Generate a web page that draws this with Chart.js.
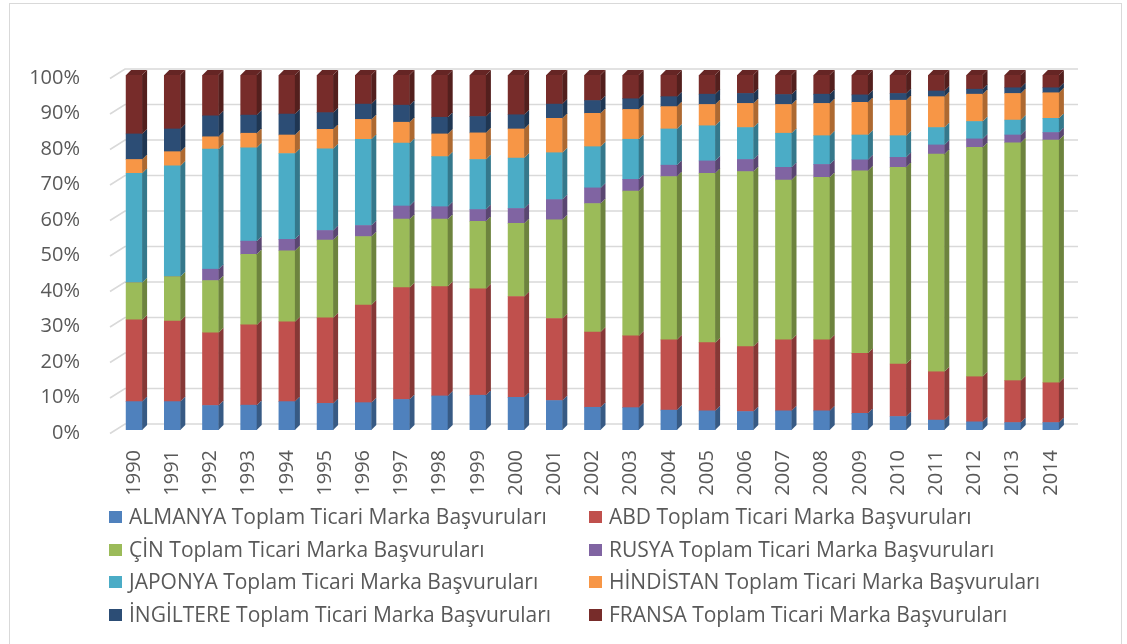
<!DOCTYPE html>
<html>
<head>
<meta charset="utf-8">
<script src="https://cdn.jsdelivr.net/npm/chart.js@4"></script>
<style>
  body { margin: 0; background: #fff; }
  .wrap { position: relative; width: 1127px; height: 644px; overflow: hidden; }
  .frame { position: absolute; left: 9px; top: 3px; width: 1111px; height: 660px; border: 1.5px solid #d9d9d9; }
  canvas { position: absolute; left: 0; top: 0; }
  .legend { position: absolute; left: 0; top: 500px; width: 1127px; font-family: "Open Sans", sans-serif; font-size: 21px; color: #595959; }
  .legend .item { position: absolute; white-space: nowrap; line-height: 24px; }
  .legend .box { display: inline-block; width: 13px; height: 12px; margin-right: 7px; vertical-align: 1px; }
</style>
</head>
<body>
<div class="wrap">
  <div class="frame"></div>
  <canvas id="chart" width="1127" height="644"></canvas>
  <div class="legend" id="legend"></div>
</div>
<script>
var years = ['1990','1991','1992','1993','1994','1995','1996','1997','1998','1999','2000','2001','2002',
             '2003','2004','2005','2006','2007','2008','2009','2010','2011','2012','2013','2014'];

// shares (percent of the column)
var almanya   = [8.0,8.0,6.9,7.0,8.0,7.5,7.7,8.6,9.6,9.8,9.2,8.3,6.4,6.3,5.6,5.4,5.2,5.4,5.4,4.7,3.8,2.8,2.3,2.1,2.1];
var abd       = [23.0,22.7,20.5,22.6,22.5,24.1,27.5,31.5,30.8,30.0,28.4,23.1,21.2,20.2,19.8,19.2,18.3,20.0,20.0,16.9,14.8,13.6,12.7,11.8,11.2];
var cin       = [10.5,12.5,14.7,19.9,20.0,21.9,19.3,19.3,19.0,19.0,20.6,27.8,36.2,40.8,46.0,47.7,49.3,45.0,45.8,51.4,55.4,61.3,64.6,67.0,68.4];
var rusya     = [0,0,3.2,3.7,3.2,2.7,3.1,3.7,3.5,3.3,4.2,5.7,4.4,3.3,3.2,3.5,3.4,3.6,3.6,3.1,2.8,2.6,2.4,2.2,2.1];
var japonya   = [30.8,31.2,33.8,26.3,24.2,23.0,24.3,17.7,14.1,14.1,14.2,13.2,11.6,11.3,10.2,9.9,9.0,9.6,8.1,7.0,6.1,4.9,4.9,4.2,4.0];
var hindistan = [3.9,4.0,3.5,4.1,5.2,5.5,5.6,5.9,6.4,7.5,8.2,9.7,9.4,8.4,6.3,6.0,6.8,8.1,9.1,9.2,10.0,8.7,7.7,7.5,7.2];
var ingiltere = [7.2,6.4,5.9,5.1,5.9,4.7,4.3,4.8,4.7,4.6,4.0,4.0,3.6,3.0,2.8,2.9,2.8,2.8,2.6,2.1,1.9,1.6,1.4,1.6,1.4];
var fransa    = [16.6,15.2,11.5,11.3,11.0,10.6,8.2,8.5,11.9,11.7,11.2,8.2,7.2,6.7,6.1,5.4,5.2,5.5,5.4,5.6,5.2,4.5,4.0,3.6,3.6];

var seriesNames = ['ALMANYA','ABD','ÇİN','RUSYA','JAPONYA','HİNDİSTAN','İNGİLTERE','FRANSA'];
var seriesData  = [almanya, abd, cin, rusya, japonya, hindistan, ingiltere, fransa];
var colors      = ['#4F81BD','#C0504D','#9BBB59','#8064A2','#4BACC6','#F79646','#2C4D75','#772C2A'];
var suffix = ' Toplam Ticari Marka Başvuruları';

// 100% stacking
var totals = years.map(function (y, i) {
    return seriesData.reduce(function (s, arr) { return s + arr[i]; }, 0);
});

function darken(hex, f) {
    var r = parseInt(hex.substr(1, 2), 16), g = parseInt(hex.substr(3, 2), 16), b = parseInt(hex.substr(5, 2), 16);
    return 'rgb(' + Math.round(r * f) + ',' + Math.round(g * f) + ',' + Math.round(b * f) + ')';
}

var DX = 5, DY = 5;

// back wall grid lines with the little slanted floor stub
var wallGrid = {
    id: 'wallGrid',
    beforeDatasetsDraw: function (chart) {
        var ctx = chart.ctx, ys = chart.scales.y, area = chart.chartArea;
        ctx.save();
        ctx.strokeStyle = '#d9d9d9';
        ctx.lineWidth = 1.6;
        ys.ticks.forEach(function (t) {
            var y = ys.getPixelForValue(t.value);
            ctx.beginPath();
            ctx.moveTo(area.left - 5, y + 3.5);
            ctx.lineTo(area.left + 10, y - 6);
            ctx.lineTo(area.right + 8, y - 6);
            ctx.stroke();
        });
        ctx.restore();
    }
};

// fake 3D: side and top faces
var bars3d = {
    id: 'bars3d',
    afterDatasetsDraw: function (chart) {
        var ctx = chart.ctx;
        var n = chart.data.datasets.length;
        ctx.save();
        chart.data.datasets.forEach(function (ds, di) {
            var meta = chart.getDatasetMeta(di);
            var side = darken(colors[di], 0.7);
            meta.data.forEach(function (bar) {
                var p = bar.getProps(['x', 'y', 'base', 'width'], true);
                if (Math.abs(p.base - p.y) < 0.1) return;
                var r = p.x + p.width / 2;
                ctx.fillStyle = side;
                ctx.beginPath();
                ctx.moveTo(r, p.y);
                ctx.lineTo(r + DX, p.y - DY);
                ctx.lineTo(r + DX, p.base - DY);
                ctx.lineTo(r, p.base);
                ctx.closePath();
                ctx.fill();
                if (di === n - 1) {
                    var l = p.x - p.width / 2;
                    ctx.fillStyle = darken(colors[di], 0.85);
                    ctx.beginPath();
                    ctx.moveTo(l, p.y);
                    ctx.lineTo(l + DX, p.y - DY);
                    ctx.lineTo(r + DX, p.y - DY);
                    ctx.lineTo(r, p.y);
                    ctx.closePath();
                    ctx.fill();
                }
            });
        });
        ctx.restore();
    }
};

var tickFont = { family: '"Open Sans", sans-serif', size: 20 };

var datasets = seriesNames.map(function (name, i) {
    return {
        label: name + suffix,
        data: seriesData[i].map(function (v, j) { return v / totals[j] * 100; }),
        backgroundColor: colors[i],
        borderWidth: 0,
        barThickness: 16
    };
});

new Chart(document.getElementById('chart').getContext('2d'), {
    type: 'bar',
    data: { labels: years, datasets: datasets },
    options: {
        responsive: false,
        devicePixelRatio: 1,
        animation: false,
        layout: { padding: { top: 75, right: 57, left: 0, bottom: 0 } },
        plugins: { legend: { display: false }, tooltip: { enabled: false } },
        scales: {
            x: {
                stacked: true,
                grid: { display: false },
                border: { display: false },
                ticks: { font: tickFont, color: '#595959', minRotation: 90, maxRotation: 90, padding: 12, autoSkip: false },
                afterFit: function (s) { s.height = 214; }
            },
            y: {
                stacked: true,
                min: 0,
                max: 100,
                grid: { display: false },
                border: { display: false },
                ticks: {
                    stepSize: 10,
                    font: tickFont,
                    color: '#595959',
                    padding: 27,
                    labelOffset: 3,
                    callback: function (v) { return v + '%'; }
                },
                afterFit: function (s) { s.width = 115; }
            }
        }
    },
    plugins: [wallGrid, bars3d]
});

// legend, two columns like the original
var legend = document.getElementById('legend');
datasets.forEach(function (ds, i) {
    var item = document.createElement('div');
    item.className = 'item';
    item.style.left = (i % 2 === 0 ? 109 : 589) + 'px';
    item.style.top = (Math.floor(i / 2) * 32.7 + 4) + 'px';
    var box = document.createElement('span');
    box.className = 'box';
    box.style.background = colors[i];
    item.appendChild(box);
    item.appendChild(document.createTextNode(ds.label));
    legend.appendChild(item);
});
</script>
</body>
</html>
